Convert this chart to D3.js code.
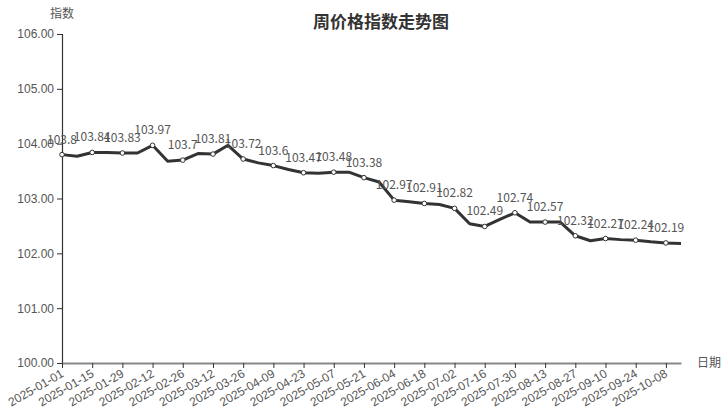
<!DOCTYPE html>
<html><head><meta charset="utf-8">
<script src="https://cdn.jsdelivr.net/npm/d3@7/dist/d3.min.js"></script>
<style>
html,body{margin:0;padding:0;background:#fff;}
svg{display:block;font-family:"Noto Sans CJK SC","Noto Sans",sans-serif;}
</style></head>
<body><svg id="c" width="728" height="414"></svg>
<script>
const dates = ["2025-01-01","2025-01-08","2025-01-15","2025-01-22","2025-01-29","2025-02-05","2025-02-12","2025-02-19","2025-02-26","2025-03-05","2025-03-12","2025-03-19","2025-03-26","2025-04-02","2025-04-09","2025-04-16","2025-04-23","2025-04-30","2025-05-07","2025-05-14","2025-05-21","2025-05-28","2025-06-04","2025-06-11","2025-06-18","2025-06-25","2025-07-02","2025-07-09","2025-07-16","2025-07-23","2025-07-30","2025-08-06","2025-08-13","2025-08-20","2025-08-27","2025-09-03","2025-09-10","2025-09-17","2025-09-24","2025-10-01","2025-10-08","2025-10-15"];
const values = [103.8,103.77,103.84,103.84,103.83,103.83,103.97,103.68,103.7,103.82,103.81,103.97,103.72,103.65,103.6,103.53,103.47,103.46,103.48,103.48,103.38,103.3,102.97,102.94,102.91,102.89,102.82,102.54,102.49,102.62,102.74,102.57,102.57,102.57,102.32,102.23,102.27,102.25,102.24,102.21,102.19,102.18];
const yTicks = [100,101,102,103,104,105,106];
const title = "周价格指数走势图";
const yName = "指数";
const xName = "日期";

const svg = d3.select("#c");
const m = {l:62, r:47, t:34, b:51};
const W = 728, H = 414;
const x = d3.scalePoint().domain(dates).range([m.l, W - m.r]);
const y = d3.scaleLinear().domain([100,106]).range([H - m.b, m.t]);

svg.append("text").attr("x",381).attr("y",28).attr("text-anchor","middle")
  .attr("font-size",17).attr("font-weight","bold").attr("fill","#333").text(title);
svg.append("text").attr("x",62).attr("y",18).attr("text-anchor","middle")
  .attr("font-size",12).attr("fill","#555").text(yName);
svg.append("text").attr("x",W - m.r + 16).attr("y",H - m.b + 4).attr("text-anchor","start")
  .attr("font-size",12).attr("fill","#555").text(xName);

// y axis
const ya = svg.append("g").attr("transform",`translate(${m.l},0)`)
  .call(d3.axisLeft(y).tickValues(yTicks).tickFormat(d3.format(".2f")).tickSize(5).tickPadding(3));
ya.select(".domain").attr("stroke","#333").attr("stroke-width",1.2);
ya.selectAll(".tick line").attr("stroke","#333");
ya.selectAll(".tick text").attr("font-size",12).attr("fill","#555").attr("font-family","inherit");

// x axis
const xTicks = dates.filter((d,i)=>i%2===0);
const xa = svg.append("g").attr("transform",`translate(0,${H - m.b})`)
  .call(d3.axisBottom(x).tickValues(xTicks).tickSize(5).tickSizeOuter(0));
xa.select(".domain").attr("stroke","#888").attr("stroke-width",2);
xa.selectAll(".tick line").attr("stroke","#333");
xa.selectAll(".tick text").attr("font-size",12).attr("fill","#555").attr("font-family","inherit")
  .attr("text-anchor","end").attr("y",0).attr("dy",0).attr("transform","translate(2,13) rotate(-30)");

// line
svg.append("path").datum(values)
  .attr("fill","none").attr("stroke","#333").attr("stroke-width",3).attr("stroke-linejoin","round")
  .attr("d", d3.line().x((d,i)=>x(dates[i])).y(d=>y(d)));

const shown = values.map((v,i)=>({v,i})).filter(d=>d.i%2===0);
svg.selectAll("circle.pt").data(shown).join("circle")
  .attr("cx",d=>x(dates[d.i])).attr("cy",d=>y(d.v)).attr("r",2.3)
  .attr("fill","#fff").attr("stroke","#333").attr("stroke-width",1);
svg.selectAll("text.lbl").data(shown).join("text")
  .attr("x",d=>x(dates[d.i])).attr("y",d=>y(d.v)-11)
  .attr("text-anchor","middle").attr("font-size",12).attr("fill","#555")
  .text(d=>d3.format("")(d.v));
</script></body></html>
